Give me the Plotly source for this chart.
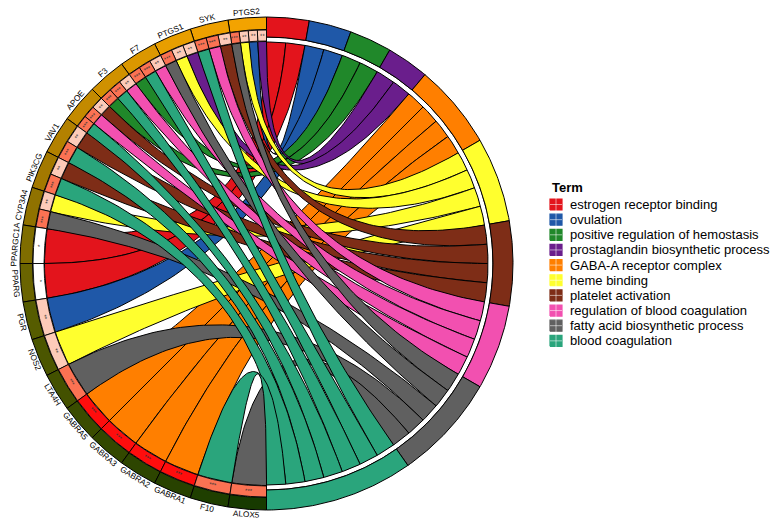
import numpy as np
import plotly.graph_objects as go

# ---------------- data ----------------
genes = ["PTGS2", "SYK", "PTGS1", "F7", "F3", "APOE", "VAV1", "PIK3CG", "CYP3A4",
         "PPARGC1A", "PPARG", "PGR", "NOS2", "LTA4H", "GABRA5", "GABRA3", "GABRA2",
         "GABRA1", "F10", "ALOX5"]
terms = ["estrogen receptor binding", "ovulation", "positive regulation of hemostasis",
         "prostaglandin biosynthetic process", "GABA-A receptor complex", "heme binding",
         "platelet activation", "regulation of blood coagulation",
         "fatty acid biosynthetic process", "blood coagulation"]
# term index of every link of each gene, listed counter-clockwise around the gene
gene_links = [
    [3, 1, 5, 8],   # PTGS2
    [6, 7, 9],      # SYK
    [3, 5, 8],      # PTGS1
    [7, 9, 2],      # F7
    [7, 9, 2],      # F3
    [6, 7, 9],      # APOE
    [6, 9],         # VAV1
    [6, 9],         # PIK3CG
    [5, 8],         # CYP3A4
    [0], [0], [1], [5], [8], [4], [4], [4], [4], [9], [8],
]
# significance level of each link (1 = "*", 2 = "**", 3 = "***", 4 = "***" strongest)
link_sig = [
    [2, 2, 2, 3],
    [2, 3, 3],
    [2, 2, 3],
    [2, 3, 3],
    [2, 3, 3],
    [2, 3, 3],
    [2, 3],
    [2, 3],
    [2, 3],
    [1], [1], [2], [2], [3], [4], [4], [4], [4], [3], [3],
]

# ---------------- styles ----------------
term_colors = ["#E3141C", "#1F58A8", "#20882A", "#6A1E8C", "#FF7F00", "#FFFF2E",
               "#7E2D17", "#F250B0", "#606060", "#2AA57C"]
gene_colors = ["#F3A300", "#EEA000", "#E89E00", "#DB9700", "#D09100", "#C38A00",
               "#B38100", "#A37900", "#907200", "#7F6D00", "#6A6400", "#565C00",
               "#4B5600", "#435100", "#3A4C00", "#334800", "#2D4500", "#284200",
               "#1F3F00", "#173A00"]
sig_colors = {1: "#FFFFFF", 2: "#FDCBB9", 3: "#FB7253", 4: "#FF0D0D"}
sig_text = {1: "*", 2: "**", 3: "***", 4: "***"}

W, H = 783, 530
CX, CY = 266.5, 263.5          # circle centre in pixels
R_OUT = 246.5
R_GENE_IN = 234.0
R_BOX_IN = 222.5
R_TERM_IN = 226.5
R_WHITE_IN = 221.5
R_RIB = 222.0
R_LABEL = 251.5
GENE_SPAN = 180.0 / len(genes)
n_links = sum(len(g) for g in gene_links)
TERM_UNIT = 180.0 / n_links
FONT = "Liberation Sans, Arial, Helvetica, sans-serif"

fig = go.Figure()


def pol(r, a):
    a = np.radians(a)
    return r * np.cos(a), r * np.sin(a)


def add_poly(xs, ys, fill, lw=0.9, lc="black"):
    fig.add_trace(go.Scatter(x=np.append(xs, xs[0]), y=np.append(ys, ys[0]), mode="lines",
                             fill="toself", fillcolor=fill, line=dict(color=lc, width=lw),
                             hoverinfo="skip", showlegend=False))


def sector(a1, a2, r1, r2, fill, lw=0.9):
    k = max(4, int(abs(a2 - a1) / 0.4) + 2)
    t = np.linspace(a1, a2, k)
    xo, yo = pol(r2, t)
    xi, yi = pol(r1, t[::-1])
    add_poly(np.concatenate([xo, xi]), np.concatenate([yo, yi]), fill, lw)


# term slots: ordered by gene order within each term
term_members = [[] for _ in terms]
for gi, lk in enumerate(gene_links):
    for ti in lk:
        term_members[ti].append(gi)
term_start = np.cumsum([0] + [len(m) for m in term_members])[:-1]

# ---------------- ribbons ----------------
tt = np.linspace(0, 1, 80)


def bez(a_g, a_t):
    x0, y0 = pol(R_RIB, a_g)
    x1, y1 = pol(R_RIB, a_t)
    return (1 - tt) ** 2 * x0 + tt ** 2 * x1, (1 - tt) ** 2 * y0 + tt ** 2 * y1


for ti in range(len(terms)):
    for rank, gi in enumerate(term_members[ti]):
        n = len(gene_links[gi])
        k = gene_links[gi].index(ti)
        ga = 90 + GENE_SPAN * gi + GENE_SPAN * k / n
        gb = 90 + GENE_SPAN * gi + GENE_SPAN * (k + 1) / n
        ta = 90 - TERM_UNIT * (term_start[ti] + rank)
        tb = 90 - TERM_UNIT * (term_start[ti] + rank + 1)
        x1, y1 = bez(ga, ta)
        x2, y2 = bez(gb, tb)
        xa, ya = pol(R_RIB, np.linspace(ta, tb, 8))
        xg, yg = pol(R_RIB, np.linspace(gb, ga, 8))
        add_poly(np.concatenate([x1, xa, x2[::-1], xg]),
                 np.concatenate([y1, ya, y2[::-1], yg]), term_colors[ti], lw=1.0)

# ---------------- term blocks ----------------
sector(90, -90, R_WHITE_IN, R_TERM_IN, "white", lw=1.0)
for ti in range(len(terms)):
    a1 = 90 - TERM_UNIT * term_start[ti]
    a2 = 90 - TERM_UNIT * (term_start[ti] + len(term_members[ti]))
    sector(a1, a2, R_TERM_IN, R_OUT, term_colors[ti], lw=1.0)

# ---------------- gene blocks ----------------
annotations = []
for gi, g in enumerate(genes):
    a1 = 90 + GENE_SPAN * gi
    a2 = a1 + GENE_SPAN
    sector(a1, a2, R_GENE_IN, R_OUT, gene_colors[gi], lw=1.0)
    n = len(gene_links[gi])
    for k in range(n):
        b1 = a1 + GENE_SPAN * k / n
        b2 = a1 + GENE_SPAN * (k + 1) / n
        lev = link_sig[gi][k]
        sector(b1, b2, R_BOX_IN, R_GENE_IN - 0.5, sig_colors[lev], lw=0.9)
        am = (b1 + b2) / 2
        sx, sy = pol((R_BOX_IN + R_GENE_IN) / 2 - 0.5, am)
        ang = 90 - am if am <= 180 else 270 - am
        annotations.append(dict(x=sx, y=sy, text=sig_text[lev], showarrow=False,
                                textangle=ang, font=dict(size=6, color="#333333", family=FONT),
                                xanchor="center", yanchor="middle"))
    am = (a1 + a2) / 2
    lx, ly = pol(R_LABEL, am)
    ang = 90 - am if am <= 180 else 270 - am
    annotations.append(dict(x=lx, y=ly, text=g, showarrow=False, textangle=ang,
                            font=dict(size=8.2, color="black", family=FONT),
                            xanchor="center", yanchor="middle"))

# ---------------- legend (drawn) ----------------
LEG_X = 556 - CX
annotations.append(dict(x=550 - CX, y=CY - 187, text="<b>Term</b>",
                        showarrow=False, xanchor="left", yanchor="middle",
                        font=dict(size=13, color="black", family=FONT)))
for ti, name in enumerate(terms):
    yc = CY - (204.5 + 15.15 * ti)
    xs = np.array([LEG_X - 6, LEG_X + 6, LEG_X + 6, LEG_X - 6])
    ys = np.array([yc - 5.5, yc - 5.5, yc + 5.5, yc + 5.5])
    add_poly(xs, ys, term_colors[ti], lw=1.2, lc=term_colors[ti])
    fig.add_trace(go.Scatter(x=[LEG_X, LEG_X, None, LEG_X - 6, LEG_X + 6],
                             y=[yc - 8, yc + 8, None, yc, yc], mode="lines",
                             line=dict(color="rgba(255,255,255,0.55)", width=1),
                             hoverinfo="skip", showlegend=False))
    annotations.append(dict(x=568 - CX, y=yc, text=name, showarrow=False,
                            xanchor="left", yanchor="middle",
                            font=dict(size=13, color="black", family=FONT)))

fig.update_layout(
    width=W, height=H, margin=dict(l=0, r=0, t=0, b=0),
    paper_bgcolor="white", plot_bgcolor="white",
    xaxis=dict(range=[-CX, W - CX], visible=False, fixedrange=True),
    yaxis=dict(range=[CY - H, CY], visible=False, fixedrange=True),
    annotations=annotations, showlegend=False,
)
fig.write_html("out.html", config={"displayModeBar": False},
               post_script="document.body.style.margin='0';document.body.style.overflow='hidden';")
